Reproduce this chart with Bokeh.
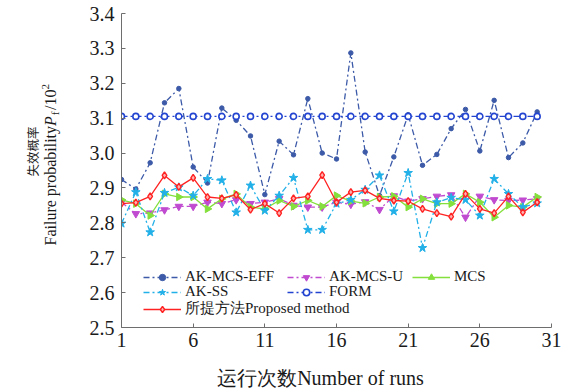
from math import pi

from bokeh.plotting import figure
from bokeh.layouts import row, column
from bokeh.models import (Range1d, FixedTicker, PrintfTickFormatter, Legend,
                          LegendItem, ColumnDataSource)
from bokeh.core.properties import value
from bokeh.embed import file_html
from bokeh.resources import INLINE

# ---- data: failure probability (x 10^-2) for each of 30 runs ----
runs = [1, 2, 3, 4, 5, 6, 7, 8, 9, 10, 11, 12, 13, 14, 15,
        16, 17, 18, 19, 20, 21, 22, 23, 24, 25, 26, 27, 28, 29, 30]

ak_mcs_eff = [2.924, 2.897, 2.972, 3.144, 3.185, 2.960, 2.914, 3.129, 3.094, 3.049,
              2.881, 3.034, 2.995, 3.156, 3.000, 2.983, 3.287, 3.003, 2.878, 2.989,
              3.110, 2.965, 2.996, 3.070, 3.125, 3.006, 3.151, 2.987, 3.029, 3.118]

ak_mcs_u = [2.859, 2.826, 2.828, 2.837, 2.847, 2.847, 2.859, 2.855, 2.866, 2.855,
            2.859, 2.869, 2.850, 2.845, 2.845, 2.859, 2.853, 2.860, 2.838, 2.877,
            2.862, 2.869, 2.876, 2.880, 2.816, 2.876, 2.866, 2.864, 2.865, 2.869]

mcs = [2.866, 2.855, 2.821, 2.883, 2.874, 2.874, 2.840, 2.869, 2.883, 2.845,
       2.840, 2.864, 2.847, 2.864, 2.847, 2.878, 2.862, 2.856, 2.874, 2.876,
       2.845, 2.869, 2.855, 2.855, 2.883, 2.859, 2.816, 2.850, 2.845, 2.874]

ak_ss = [2.798, 2.888, 2.773, 2.886, 2.902, 2.878, 2.926, 2.922, 2.830, 2.907,
         2.835, 2.878, 2.929, 2.780, 2.780, 2.855, 2.866, 2.895, 2.936, 2.833,
         2.943, 2.728, 2.859, 2.872, 2.866, 2.821, 2.926, 2.883, 2.845, 2.856]

form = [3.105, 3.105, 3.105, 3.105, 3.105, 3.105, 3.105, 3.105, 3.105, 3.105,
        3.105, 3.105, 3.105, 3.105, 3.105, 3.105, 3.105, 3.105, 3.105, 3.105,
        3.105, 3.105, 3.105, 3.105, 3.105, 3.105, 3.105, 3.105, 3.105, 3.105]

proposed = [2.855, 2.858, 2.876, 2.936, 2.903, 2.929, 2.874, 2.870, 2.880, 2.838,
            2.855, 2.828, 2.870, 2.876, 2.937, 2.859, 2.888, 2.893, 2.870, 2.864,
            2.862, 2.840, 2.828, 2.818, 2.883, 2.840, 2.828, 2.876, 2.830, 2.859]

x_ticks = [1, 6, 11, 16, 21, 26, 31]
y_ticks = [2.5, 2.6, 2.7, 2.8, 2.9, 3.0, 3.1, 3.2, 3.3, 3.4]

SERIF = "Liberation Serif"
CJK = "Noto Sans CJK SC"
DASHDOT = "6 3 2 3"
TXT = "#1a1a1a"

W, H = 567, 389
TITLE_W = 62          # strip left of the chart holding the y title
XTITLE_H = 31         # strip under the chart holding the x title
MAIN_H = H - XTITLE_H
FRAME_TOP, FRAME_BOTTOM = 13, 327

# ---------------- main chart ----------------
p = figure(width=W - TITLE_W, height=MAIN_H, output_backend="svg",
           toolbar_location=None,
           x_range=Range1d(1, 31), y_range=Range1d(2.5, 3.4),
           min_border_left=121 - TITLE_W, min_border_right=16,
           min_border_top=FRAME_TOP, min_border_bottom=MAIN_H - FRAME_BOTTOM)
p.outline_line_color = None
p.xgrid.visible = False
p.ygrid.visible = False

for ax in (p.xaxis[0], p.yaxis[0]):
    ax.axis_line_color = "#6e6e6e"
    ax.axis_line_width = 1
    ax.major_tick_line_color = "#6e6e6e"
    ax.major_tick_in = 4
    ax.major_tick_out = 0
    ax.minor_tick_in = 0
    ax.minor_tick_out = 0
    ax.major_label_text_font = SERIF
    ax.major_label_text_font_size = "20px"
    ax.major_label_text_color = TXT

p.xaxis[0].ticker = FixedTicker(ticks=x_ticks)
p.yaxis[0].ticker = FixedTicker(ticks=y_ticks)
p.yaxis[0].formatter = PrintfTickFormatter(format="%.1f")
p.xaxis[0].major_label_standoff = 5
p.yaxis[0].major_label_standoff = 7


def series(y, color, dash, marker, size, fill, lw=1.3, mlw=1.0, angle=0.0):
    src = ColumnDataSource(dict(x=runs, y=y))
    r_line = p.line("x", "y", source=src, line_color=color, line_width=lw,
                    line_dash=dash)
    r_mark = p.scatter("x", "y", source=src, marker=marker, size=size,
                       line_color=color, fill_color=fill, line_width=mlw,
                       angle=angle)
    return [r_line, r_mark]


r_eff = series(ak_mcs_eff, "#3c5aa8", DASHDOT, "circle", 4.5, "#3c5aa8")
r_u = series(ak_mcs_u, "#c04ad0", DASHDOT, "inverted_triangle", 7.5, "#c04ad0")
r_mcs = series(mcs, "#84e03c", "solid", "triangle", 7.5, "#84e03c", angle=-pi / 2)
r_ss = series(ak_ss, "#22b0e8", DASHDOT, "star", 9, "#22b0e8")
r_form = series(form, "#2244d0", DASHDOT, "circle", 6, "white", mlw=1.6)
r_prop = series(proposed, "#ff2222", "solid", "diamond", 7, "#ffb0b0", mlw=1.4)


def add_legend(label, renderers, x, y):
    lg = Legend(items=[LegendItem(label=label, renderers=renderers)],
                location=(x, y), orientation="horizontal",
                glyph_width=38, glyph_height=16, label_height=16,
                label_standoff=4, padding=0, margin=0, spacing=0,
                border_line_color=None, background_fill_alpha=0,
                label_text_font=SERIF, label_text_font_size="15px",
                label_text_color=TXT)
    p.add_layout(lg)


add_legend("AK-MCS-EFF", r_eff, 22, 42)
add_legend("AK-MCS-U", r_u, 166, 42)
add_legend("MCS", r_mcs, 291, 42)
add_legend("AK-SS", r_ss, 22, 27)
add_legend("FORM", r_form, 166, 27)
add_legend("所提方法Proposed method", r_prop, 22, 9)

# ---------------- y title strip ----------------
# The row aligns this strip's frame with the chart frame, so its y range is
# given in canvas pixels (downwards) over that same frame.
yt = figure(width=TITLE_W, height=MAIN_H, output_backend="svg",
            toolbar_location=None, x_axis_type=None, y_axis_type=None,
            x_range=Range1d(0, TITLE_W), y_range=Range1d(FRAME_BOTTOM, FRAME_TOP),
            min_border=0, outline_line_color=None)
yt.xgrid.visible = False
yt.ygrid.visible = False

yt.text(x=[32], y=[151], text=["失效概率"], angle=pi / 2,
        text_font=value(CJK), text_font_size="12.5px", text_color=TXT,
        text_align="center", text_baseline="middle")

FS = 16
pieces = [
    ("Failure probability", FS, "normal", 0, 7.472 * FS),
    ("P", FS, "italic", 0, 0.611 * FS + 1),
    ("f", 11, "normal", 4, 0.333 * 11 + 1.5),
    ("/10", FS, "normal", 0, 1.278 * FS),
    ("2", 11, "normal", -5, 0.5 * 11),
]
start = 245
for text, size, style, shift, width in pieces:
    yt.text(x=[50 + shift], y=[start], text=[text], angle=pi / 2,
            text_font=value(SERIF), text_font_size=f"{size}px",
            text_font_style=style, text_color=TXT,
            text_align="left", text_baseline="middle")
    start -= width

# ---------------- x title strip ----------------
xt = figure(width=W, height=XTITLE_H, output_backend="svg",
            toolbar_location=None, x_axis_type=None, y_axis_type=None,
            x_range=Range1d(0, W), y_range=Range1d(XTITLE_H, 0),
            min_border=0, outline_line_color=None)
xt.xgrid.visible = False
xt.ygrid.visible = False
xt.text(x=[320], y=[377 - MAIN_H], text=["运行次数Number of runs"],
        text_font=value(SERIF), text_font_size="20px", text_color=TXT,
        text_align="center", text_baseline="middle")

layout = column(row(yt, p, spacing=0), xt, spacing=0)

with open("out.html", "w") as f:
    f.write(file_html(layout, INLINE))
